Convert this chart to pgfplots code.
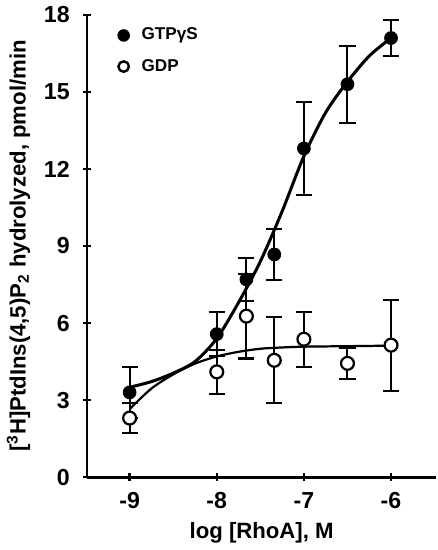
\documentclass[border=0pt]{standalone}
\usepackage{pgfplots}
\pgfplotsset{compat=1.18}
\usepackage{fontspec}
\setmainfont{Liberation Sans}

\begin{document}
\begin{tikzpicture}
\begin{axis}[
  scale only axis,
  width=173.5pt,
  height=229.5pt,
  xmin=-9.49, xmax=-5.48,
  ymin=0, ymax=18,
  axis lines=left,
  axis line style={-, line width=1.4pt},
  xtick={-9,-8,-7,-6},
  xticklabels={-9,-8,-7,-6},
  ytick={0,3,6,9,12,15,18},
  major tick length=4pt,
  tick style={line width=1.2pt, black},
  tick label style={font=\fontsize{11.5}{13}\selectfont\bfseries},
  /pgf/number format/assume math mode=true,
  xticklabel style={yshift=-2pt},
  yticklabel style={xshift=-3pt},
  xlabel={\bfseries log [RhoA], M},
  ylabel={\bfseries [\textsuperscript{3}H]PtdIns(4,5)P\textsubscript{2} hydrolyzed, pmol/min},
  label style={font=\fontsize{11}{13}\selectfont},
  xlabel style={yshift=0pt},
  ylabel style={yshift=0pt},
  legend style={draw=none, fill=none, at={(0.07,0.99)}, anchor=north west,
    font=\fontsize{8.5}{10}\selectfont\bfseries, row sep=4pt,
    nodes={inner xsep=6pt}},
  legend cell align=left,
  clip=false,
]
% legend markers
\addlegendimage{only marks, mark=*, mark size=2.9pt, black}
\addlegendentry{GTPγS}
\addlegendimage{only marks, mark=o, mark size=2.6pt, black, line width=1.2pt}
\addlegendentry{GDP}

% fitted curves
\addplot[black, line width=1.5pt, smooth, forget plot] coordinates {
  (-9,3.5) (-8.75,3.72) (-8.5,4.05) (-8.25,4.5) (-8,5.4) (-7.75,6.8)
  (-7.5,8.4) (-7.25,10.35) (-7,12.5) (-6.75,14.2) (-6.5,15.4) (-6.25,16.4) (-6,17.1)
};
\addplot[black, line width=1.1pt, smooth, forget plot] coordinates {
  (-9,2.65) (-8.75,3.45) (-8.5,4.0) (-8.25,4.42) (-8,4.7) (-7.75,4.88)
  (-7.5,5.0) (-7.25,5.05) (-7,5.08) (-6.5,5.1) (-6,5.12)
};

% GTPgammaS data
\addplot[only marks, mark=*, mark size=3.2pt, black, forget plot,
  error bars/.cd, y dir=both, y explicit,
  error bar style={line width=1pt},
  error mark options={rotate=90, mark size=4pt, line width=1pt}]
  coordinates {
  (-9,3.3) +- (0,1.0)
  (-8,5.57) +- (0,0.85)
  (-7.66,7.7) +- (0,0.85)
  (-7.34,8.67) +- (0,1.0)
  (-7,12.8) +- (0,1.8)
  (-6.5,15.3) +- (0,1.5)
  (-6,17.1) +- (0,0.7)
};

% GDP data
\addplot[only marks, mark=*, mark size=3.2pt, draw=black, fill=white, line width=1.1pt, forget plot,
  error bars/.cd, y dir=both, y explicit,
  error bar style={line width=1pt},
  error mark options={rotate=90, mark size=4pt, line width=1pt}]
  coordinates {
  (-9,2.3) +- (0,0.6)
  (-8,4.1) +- (0,0.87)
  (-7.66,6.27) +- (0,1.65)
  (-7.34,4.55) +- (0,1.68)
  (-7,5.37) +- (0,1.07)
  (-6.5,4.43) +- (0,0.6)
  (-6,5.14) +- (0,1.77)
};
\end{axis}
\end{tikzpicture}
\end{document}
